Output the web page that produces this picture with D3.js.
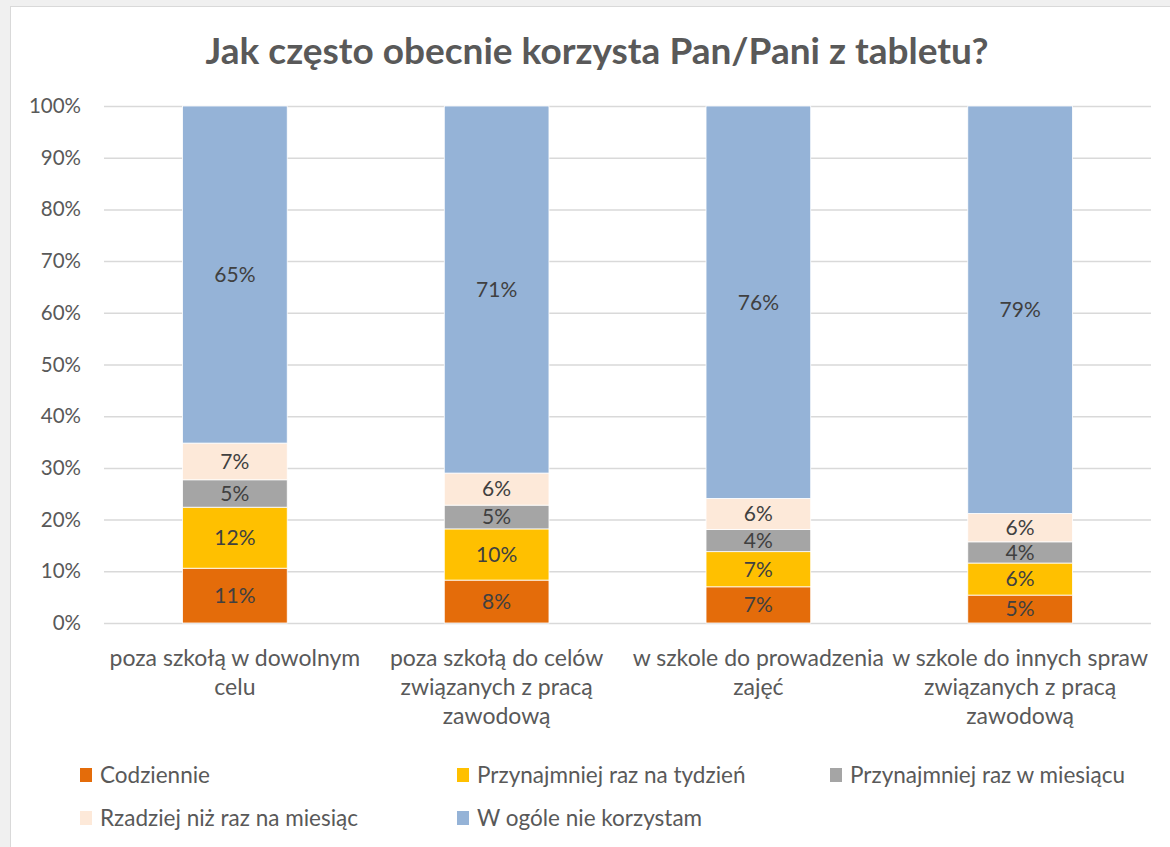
<!DOCTYPE html>
<html>
<head>
<meta charset="utf-8">
<script src="https://cdn.jsdelivr.net/npm/d3@7"></script>
<style>
  body { margin: 0; background: #f0f0f0; }
  svg { display: block; font-family: Lato, "Open Sans", sans-serif; }
</style>
</head>
<body>
<svg id="chart"></svg>
<script>
var width = 1170;
var height = 847;

// categories (line breaks as in the original axis labels)
var categories = [
  "poza szkołą w dowolnym\ncelu",
  "poza szkołą do celów\nzwiązanych z pracą\nzawodową",
  "w szkole do prowadzenia\nzajęć",
  "w szkole do innych spraw\nzwiązanych z pracą\nzawodową"
];
var seriesNames = ["Codziennie", "Przynajmniej raz na tydzień", "Przynajmniej raz w miesiącu",
                   "Rzadziej niż raz na miesiąc", "W ogóle nie korzystam"];
var seriesColors = ["#e46c0a", "#ffc000", "#a5a5a5", "#fde9d9", "#95b3d7"];

// percentages per series, one value per category
var codziennie  = [10.6, 8.3, 7.0, 5.4];
var tydzien     = [11.8, 9.9, 6.8, 6.2];
var miesiac     = [5.3, 4.6, 4.3, 4.1];
var rzadziej    = [7.1, 6.2, 6.0, 5.5];
var wOgole      = [65.2, 71.0, 75.9, 78.8];
var labels = [
  ["11%", "8%", "7%", "5%"],
  ["12%", "10%", "7%", "6%"],
  ["5%", "5%", "4%", "4%"],
  ["7%", "6%", "6%", "6%"],
  ["65%", "71%", "76%", "79%"]
];
var yTicks = [0, 10, 20, 30, 40, 50, 60, 70, 80, 90, 100];

var seriesValues = [codziennie, tydzien, miesiac, rzadziej, wOgole];

var svg = d3.select("#chart")
    .attr("width", width)
    .attr("height", height);

// chart frame
svg.append("rect")
    .attr("x", 10.5).attr("y", 6.5)
    .attr("width", width).attr("height", height)
    .attr("fill", "#fff")
    .attr("stroke", "#d9d9d9");

var plotLeft = 104, plotRight = 1151, plotTop = 106, plotBottom = 623;

var xScale = d3.scaleBand()
    .domain(d3.range(categories.length))
    .range([plotLeft, plotRight])
    .paddingInner(0.6)
    .paddingOuter(0.3);

var yScale = d3.scaleLinear()
    .domain([0, 100])
    .range([plotBottom, plotTop]);

// gridlines
var yAxis = d3.axisLeft(yScale)
    .tickValues(yTicks)
    .tickSize(-(plotRight - plotLeft))
    .tickPadding(23)
    .tickFormat(d => d + "%");

var gy = svg.append("g")
    .attr("transform", "translate(" + plotLeft + ",0)")
    .call(yAxis);
gy.select(".domain").remove();
gy.selectAll("line").attr("stroke", "#d9d9d9").attr("stroke-width", 1.5);
gy.selectAll("text")
    .attr("fill", "#595959")
    .style("font-size", "20.5px")
    .style("font-family", "Lato, sans-serif");

// stacked data
var rows = categories.map(function(c, i) {
  var r = { i: i };
  seriesValues.forEach(function(s, k) { r["s" + k] = s[i]; });
  return r;
});
var stack = d3.stack().keys(seriesNames.map((d, k) => "s" + k));
var stacked = stack(rows);

var layers = svg.append("g")
  .selectAll("g")
  .data(stacked)
  .enter()
  .append("g")
    .attr("fill", (d, k) => seriesColors[k]);

layers.selectAll("rect")
  .data(d => d)
  .enter()
  .append("rect")
    .attr("x", d => xScale(d.data.i))
    .attr("y", d => yScale(d[1]))
    .attr("width", xScale.bandwidth())
    .attr("height", d => yScale(d[0]) - yScale(d[1]))
    .attr("stroke", "#fff")
    .attr("stroke-width", 0.8);

layers.selectAll("text")
  .data((d, k) => d.map(function(p) { return { p: p, k: k }; }))
  .enter()
  .append("text")
    .attr("x", d => xScale(d.p.data.i) + xScale.bandwidth() / 2)
    .attr("y", d => yScale((d.p[0] + d.p[1]) / 2))
    .attr("dy", "0.35em")
    .attr("text-anchor", "middle")
    .attr("fill", "#404040")
    .style("font-size", "21px")
    .text(d => labels[d.k][d.p.data.i]);

// category labels
svg.append("g")
  .selectAll("text")
  .data(categories)
  .enter()
  .append("text")
    .attr("x", (d, i) => xScale(i) + xScale.bandwidth() / 2)
    .attr("y", 666)
    .attr("text-anchor", "middle")
    .attr("fill", "#595959")
    .style("font-size", "23px")
  .selectAll("tspan")
  .data(d => d.split("\n"))
  .enter()
  .append("tspan")
    .attr("x", function() { return this.parentNode.getAttribute("x"); })
    .attr("dy", (d, j) => j === 0 ? 0 : 29)
    .text(d => d);

// title
svg.append("text")
    .attr("x", 597)
    .attr("y", 64)
    .attr("text-anchor", "middle")
    .attr("fill", "#595959")
    .style("font-size", "37px")
    .style("font-weight", "bold")
    .text("Jak często obecnie korzysta Pan/Pani z tabletu?");

// legend
var legendPos = [[80, 775], [457, 775], [830, 775], [80, 818], [457, 818]];
var legend = svg.append("g")
  .selectAll("g")
  .data(seriesNames)
  .enter()
  .append("g")
    .attr("transform", (d, k) => "translate(" + legendPos[k][0] + "," + legendPos[k][1] + ")");

legend.append("rect")
    .attr("x", 0).attr("y", -7)
    .attr("width", 12).attr("height", 14)
    .attr("fill", (d, k) => seriesColors[k]);

legend.append("text")
    .attr("x", 20)
    .attr("dy", "0.35em")
    .attr("fill", "#595959")
    .style("font-size", "22.5px")
    .text(d => d);
</script>
</body>
</html>
